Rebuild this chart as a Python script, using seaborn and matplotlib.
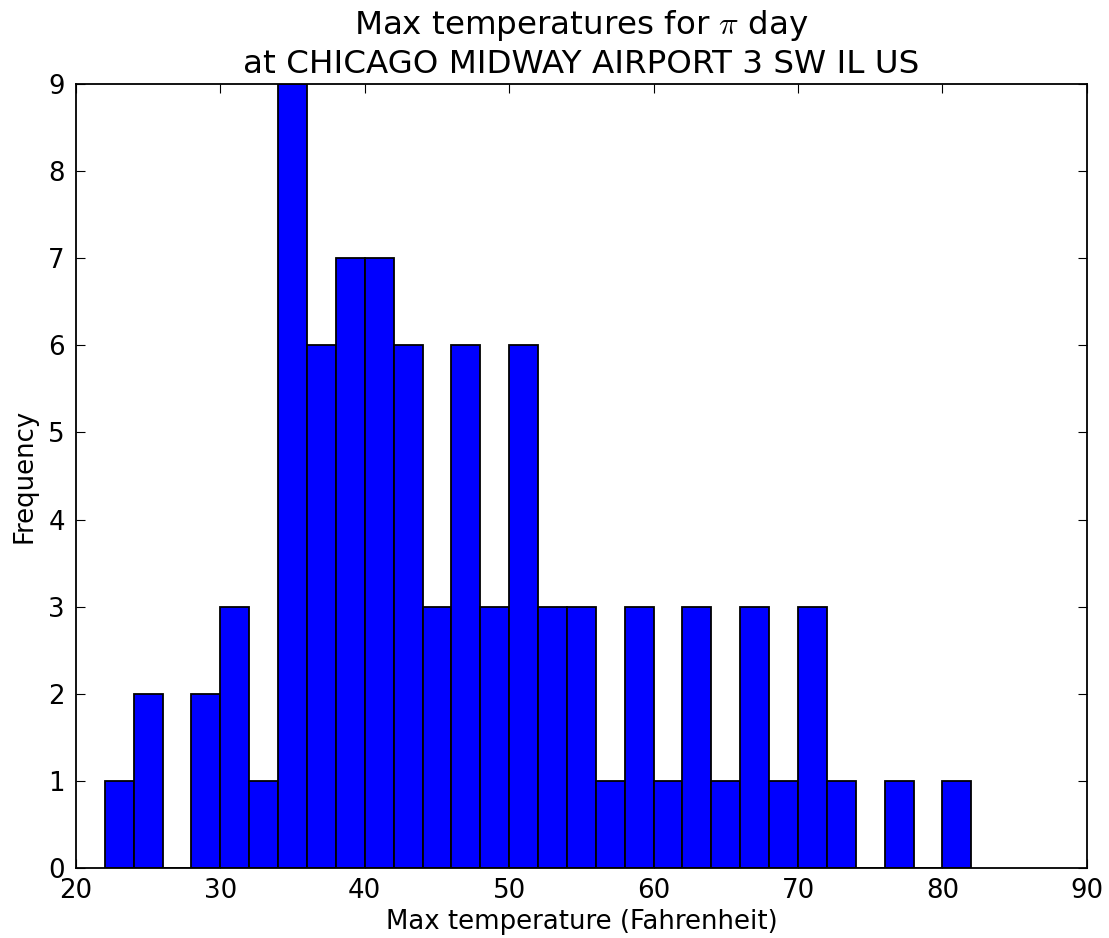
import numpy as np
import pandas as pd
import matplotlib
matplotlib.use("Agg")
import matplotlib.pyplot as plt
import seaborn as sns

# Histogram of March 14 maximum temperatures: 2-degree bins from 22 to 82 F
bin_left = [22, 24, 26, 28, 30, 32, 34, 36, 38, 40, 42, 44, 46, 48, 50,
            52, 54, 56, 58, 60, 62, 64, 66, 68, 70, 72, 74, 76, 78, 80]
counts = [1, 2, 0, 2, 3, 1, 9, 6, 7, 7, 6, 3, 6, 3, 6,
          3, 3, 1, 3, 1, 3, 1, 3, 1, 3, 1, 0, 1, 0, 1]
x_ticks = [20, 30, 40, 50, 60, 70, 80, 90]
y_ticks = [0, 1, 2, 3, 4, 5, 6, 7, 8, 9]

bin_width = 2
df = pd.DataFrame({
    "temp": np.array(bin_left, dtype=float) + bin_width / 2,
    "n": counts,
})

sns.set_style("ticks")
plt.rcParams["font.family"] = ["DejaVu Sans"]
plt.rcParams["mathtext.fontset"] = "cm"
plt.rcParams["text.color"] = "black"
plt.rcParams["axes.labelcolor"] = "black"
plt.rcParams["xtick.direction"] = "in"
plt.rcParams["ytick.direction"] = "in"
plt.rcParams["xtick.top"] = True
plt.rcParams["ytick.right"] = True

fig = plt.figure(figsize=(11.09, 9.38), dpi=100)
ax = fig.add_axes([0.0685, 0.0746, 0.9115, 0.8358])

sns.histplot(data=df, x="temp", weights="n", binwidth=bin_width,
             binrange=(bin_left[0], bin_left[-1] + bin_width), ax=ax,
             color="#0000ff", edgecolor="black", linewidth=1.3, alpha=1.0)

ax.set_xlim(20, 90)
ax.set_ylim(0, 9)
ax.set_xticks(x_ticks)
ax.set_yticks(y_ticks)
ax.tick_params(axis="both", which="major", labelsize=18.7, length=6.5,
               width=0.8, color="black", labelcolor="black")
ax.tick_params(axis="x", pad=7)
ax.tick_params(axis="y", pad=8)
for s in ax.spines.values():
    s.set_visible(True)
    s.set_linewidth(1.3)
    s.set_color("black")

ax.set_xlabel("Max temperature (Fahrenheit)", fontsize=18.7, labelpad=4)
ax.set_ylabel("Frequency", fontsize=18.7, labelpad=8)
ax.set_title("Max temperatures for $\\pi$ day\nat CHICAGO MIDWAY AIRPORT 3 SW IL US",
             fontsize=23.4, pad=8, linespacing=1.25)

fig.savefig("out.png", dpi=100, facecolor="white")
